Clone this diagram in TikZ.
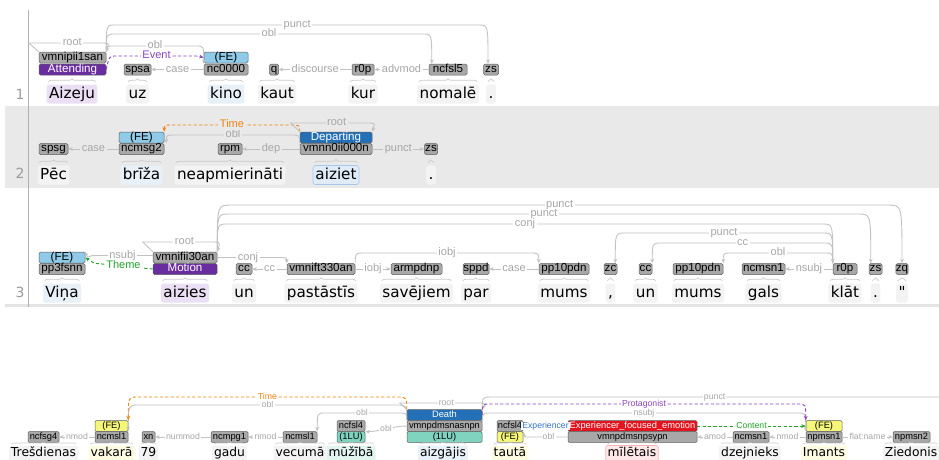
\documentclass[tikz,border=0pt]{standalone}
\usepackage{fontspec}
\usetikzlibrary{arrows.meta,decorations.pathreplacing}
\newfontfamily\wfont{DejaVu Sans}
\newfontfamily\tfont{Liberation Sans}
\definecolor{taggray}{HTML}{A8A8A8}
\definecolor{tagborder}{HTML}{5E5E5E}
\definecolor{arcgray}{HTML}{C2C2C2}
\definecolor{labgray}{HTML}{A6A6A6}
\definecolor{rowgray}{HTML}{E9E9E9}
\definecolor{sepgray}{HTML}{E4E4E4}
\definecolor{guttergray}{HTML}{B0B0B0}
\definecolor{lngray}{HTML}{9A9A9A}
\definecolor{bracegray}{HTML}{CACACA}
\definecolor{attpurple}{HTML}{6A2D9F}
\definecolor{depblue}{HTML}{2370B6}
\definecolor{feblue}{HTML}{8FCBE8}
\definecolor{feyellow}{HTML}{F6F67A}
\definecolor{luteal}{HTML}{7FD3BF}
\definecolor{emored}{HTML}{E2141F}
\definecolor{timeor}{HTML}{F0820F}
\definecolor{evpurple}{HTML}{8A45C0}
\definecolor{thgreen}{HTML}{22A52A}
\definecolor{expblue}{HTML}{3773C4}
\definecolor{hlgray}{HTML}{F3F3F3}
\definecolor{hlpurple}{HTML}{EADFF5}
\definecolor{hlblue}{HTML}{E8F0F8}
\definecolor{hlblueB}{HTML}{E0EBF8}
\definecolor{hlblueline}{HTML}{A9C7EA}
\definecolor{hlyellow}{HTML}{FCFBE2}
\definecolor{hlteal}{HTML}{E2F4EF}
\definecolor{hlpink}{HTML}{FDE7E7}
\definecolor{pinkline}{HTML}{F2B4B4}

\tikzset{
  >={Stealth[length=4.5pt,width=3.8pt]},
  tagA/.style={draw=tagborder, line width=0.5pt, rounded corners=1.5pt, inner sep=0pt,
    minimum height=11pt, minimum width=#1, text height=8pt, text depth=2.3pt,
    font=\tfont\fontsize{11.6}{12}\selectfont},
  tagB/.style={draw=tagborder, line width=0.5pt, rounded corners=1.2pt, inner sep=0pt,
    minimum height=10.8pt, minimum width=#1, text height=6.8pt, text depth=2pt,
    font=\tfont\fontsize{9.3}{10}\selectfont},
  tg/.style={tagA=#1, fill=taggray},
  tgB/.style={tagB=#1, fill=taggray},
  cbox/.style n args={3}{tagA=#3, fill=#1, text=#2},
  cboxB/.style n args={3}{tagB=#3, fill=#1, text=#2},
  wdA/.style={font=\wfont\fontsize{15.2}{17}\selectfont, anchor=base, inner xsep=2.5pt,
    inner ysep=2pt, text height=11.5pt, text depth=3.5pt, rounded corners=2.5pt, fill=#1},
  wdA/.default=hlgray,
  wdB/.style={font=\wfont\fontsize{12.3}{14}\selectfont, anchor=base, inner xsep=2pt,
    inner ysep=1.5pt, text height=9.5pt, text depth=3pt, rounded corners=2pt, fill=#1},
  wdB/.default=hlgray,
  lnum/.style={font=\wfont\fontsize{14}{16}\selectfont, text=lngray, anchor=base, inner sep=0pt},
  darc/.style={draw=arcgray, line width=0.9pt, ->},
  farc/.style={draw=#1, line width=0.9pt, dash pattern=on 3.2pt off 2.2pt, ->},
  lab/.style={fill=white, text=labgray, font=\tfont\fontsize{11}{12}\selectfont,
    inner xsep=1.5pt, inner ysep=0.2pt, text height=7.2pt, text depth=1.8pt},
  labg/.style={lab, fill=rowgray},
  labc/.style={lab, text=#1},
  labcg/.style={labg, text=#1},
  labB/.style={fill=white, text=labgray, font=\tfont\fontsize{8.7}{10}\selectfont,
    inner xsep=1.2pt, inner ysep=0.3pt, text height=6pt, text depth=1.5pt},
  labBc/.style={labB, text=#1},
  brcA/.style={decorate, decoration={brace, amplitude=3pt}, draw=bracegray, line width=0.7pt},
  brcB/.style={decorate, decoration={brace, amplitude=2.2pt}, draw=bracegray, line width=0.6pt},
}

% arc going right: opts, start, end, level, label style, label, d
\newcommand\arcR[7][]{%
  \path (0,#4) coordinate (lv);
  \draw[#1] (#2) .. controls (#2 |- lv) .. ([xshift=#7pt]#2 |- lv)
    -- node[#5]{#6} ([xshift=-#7pt]#3 |- lv) .. controls (#3 |- lv) .. (#3);}
% arc going left
\newcommand\arcL[7][]{%
  \path (0,#4) coordinate (lv);
  \draw[#1] (#2) .. controls (#2 |- lv) .. ([xshift=-#7pt]#2 |- lv)
    -- node[#5]{#6} ([xshift=#7pt]#3 |- lv) .. controls (#3 |- lv) .. (#3);}
% root arc over a box: node, level, label style, left offset
\newcommand\rootarc[4]{%
  \path (0,#2) coordinate (lv);
  \draw[darc] (#1.north west) -- ([xshift=-#4pt]#1.north west |- lv)
    -- node[#3, pos=0.6]{root} ([xshift=-5pt]#1.north east |- lv)
    .. controls ([xshift=3pt]#1.north east |- lv) .. (#1.north east);}

\begin{document}
\begin{tikzpicture}[x=1pt,y=-1pt]
\useasboundingbox (0,0) rectangle (939,459);
\clip (0,0) rectangle (939,459);

% backgrounds
\fill[rowgray] (5,106) rectangle (939,188);
\fill[sepgray] (5,304) rectangle (939,306.5);
\draw[guttergray, line width=0.8pt] (28,10) -- (28,307);
\node[lnum] (ln1) at (20,99) {1};
\node[lnum] (ln2) at (20,178.5) {2};
\node[lnum] (ln3) at (20,297) {3};

% ---------------- sentence 1
\node[tg=67pt] (v1) at (72.5,57.5) {vmnipii1san};
\node[cbox={attpurple}{white}{67pt}] (att) at (72.5,69.5) {Attending};
\node[tg=27pt] (spsa) at (137.5,69.5) {spsa};
\node[cbox={feblue}{black}{44pt}] (fe1) at (226,57.5) {(FE)};
\node[tg=44pt] (nc1) at (226,69.5) {nc0000};
\node[tg=9pt] (q1) at (274,69.5) {q};
\node[tg=22pt] (r1) at (363,69.5) {r0p};
\node[tg=38pt] (n5) at (448,69.5) {ncfsl5};
\node[tg=15pt] (zs1) at (491,69.5) {zs};

\node[wdA=hlpurple] (w1a) at (72,98) {Aizeju};
\node[wdA] (w1b) at (137.5,98) {uz};
\node[wdA=hlblue] (w1c) at (226,98) {kino};
\node[wdA] (w1d) at (277,98) {kaut};
\node[wdA] (w1e) at (363,98) {kur};
\node[wdA] (w1f) at (448,98) {nomalē};
\node[wdA] (w1g) at (491,98) {.};

\coordinate (zs1e) at ([xshift=-3pt]zs1.north);
\coordinate (n5e) at ([xshift=3pt]n5.north west);
\rootarc{v1}{43}{lab}{10}
\arcR[darc]{v1.north east}{zs1e}{25}{lab}{punct}{9}
\arcR[darc]{v1.north east}{n5e}{34}{lab}{obl}{9}
\arcR[darc]{v1.north east}{nc1.north west}{46}{lab}{obl}{7}
\path (0,56) coordinate (lvE);
\draw[farc=evpurple] (att.east) .. controls ([xshift=3pt]att.east |- lvE) .. ([xshift=10pt]att.east |- lvE)
  -- node[labc=evpurple]{Event} ([xshift=-7pt]fe1.west |- lvE) -- (fe1.west);
\draw[darc] (nc1.west) -- node[lab]{case} (spsa.east);
\draw[darc] (r1.west) -- node[lab]{discourse} (q1.east);
\draw[darc] (n5.west) -- node[lab]{advmod} (r1.east);

% ---------------- sentence 2
\node[tg=29pt] (spsg) at (53.5,149) {spsg};
\node[cbox={feblue}{black}{45pt}] (fe2) at (141.5,137.5) {(FE)};
\node[tg=45pt] (nc2) at (141.5,149) {ncmsg2};
\node[tg=24pt] (rpm) at (230,149) {rpm};
\node[cbox={depblue}{white}{72pt}] (dep) at (336,137.5) {Departing};
\node[tg=72pt] (vm2) at (336,149) {vmnn0ii000n};
\node[tg=13pt] (zs2) at (431,149) {zs};

\node[wdA] (w2a) at (53.5,179) {Pēc};
\node[wdA=hlblue] (w2b) at (141.5,179) {brīža};
\node[wdA] (w2c) at (230,179) {neapmierināti};
\node[wdA=hlblueB, draw=hlblueline, line width=0.6pt] (w2d) at (336,179) {aiziet};
\node[wdA] (w2e) at (431,179) {.};

\coordinate (nc2e) at ([xshift=2pt]nc2.north east);
\draw[darc] (nc2.west) -- node[labg]{case} (spsg.east);
\draw[darc] (vm2.west) -- node[labg]{dep} (rpm.east);
\draw[darc] (vm2.east) -- node[labg]{punct} (zs2.west);
\arcL[darc]{vm2.north west}{nc2e}{135}{labg}{obl}{9}
\arcL[farc=timeor]{dep.north west}{fe2.north east}{125}{labcg=timeor}{Time}{9}
\rootarc{dep}{123}{labg}{9}

% ---------------- sentence 3
\node[cbox={feblue}{black}{46pt}] (fe3) at (62,257.5) {(FE)};
\node[tg=46pt] (pp3) at (62,269) {pp3fsnn};
\node[tg=64pt] (vm3) at (185,257.5) {vmnifii30an};
\node[cbox={attpurple}{white}{64pt}] (mot) at (185,269) {Motion};
\node[tg=16pt] (cca) at (244,269) {cc};
\node[tg=68pt] (vt3) at (321,269) {vmnift330an};
\node[tg=51pt] (arm) at (416.5,269) {armpdnp};
\node[tg=26pt] (sppd) at (476,269) {sppd};
\node[tg=50pt] (ppa) at (564,269) {pp10pdn};
\node[tg=13pt] (zc) at (610.5,269) {zc};
\node[tg=13pt] (ccb) at (645.5,269) {cc};
\node[tg=50pt] (ppb) at (698,269) {pp10pdn};
\node[tg=43pt] (nm) at (763.5,269) {ncmsn1};
\node[tg=24pt] (r3) at (845,269) {r0p};
\node[tg=13pt] (zs3) at (875.5,269) {zs};
\node[tg=11pt] (zq) at (902,269) {zq};

\node[wdA=hlblue] (w3a) at (62,297) {Viņa};
\node[wdA=hlpurple] (w3b) at (185,297) {aizies};
\node[wdA] (w3c) at (244,297) {un};
\node[wdA] (w3d) at (321,297) {pastāstīs};
\node[wdA] (w3e) at (416.5,297) {savējiem};
\node[wdA] (w3f) at (476,297) {par};
\node[wdA] (w3g) at (564,297) {mums};
\node[wdA] (w3h) at (610.5,297) {,};
\node[wdA] (w3i) at (645.5,297) {un};
\node[wdA] (w3j) at (698,297) {mums};
\node[wdA] (w3k) at (763.5,297) {gals};
\node[wdA] (w3l) at (845,297) {klāt};
\node[wdA] (w3m) at (875.5,297) {.};
\node[wdA] (w3n) at (902,297) {\symbol{34}};

\coordinate (zs3e) at ([xshift=2pt]zs3.north west);
\coordinate (zce) at ([xshift=-2pt]zc.north east);
\rootarc{vm3}{242}{lab}{10}
\draw[darc] ([yshift=2pt]vm3.west) -- node[lab]{nsubj} ([xshift=7pt,yshift=2pt]fe3.east)
  .. controls ([xshift=2pt]fe3.east) .. (fe3.north east);
\draw[farc=thgreen] (mot.west) -- node[labc=thgreen]{Theme} ([xshift=9pt]fe3.south east) -- (fe3.east);
\draw[darc] (vm3.east) -- node[lab]{conj} ([xshift=-8pt]vt3.north west |- vm3.east)
  .. controls (vt3.north west |- vm3.east) .. (vt3.north west);
\draw[darc] (vt3.west) -- node[lab]{cc} (cca.east);
\draw[darc] (vt3.east) -- node[lab]{iobj} (arm.west);
\arcR[darc]{vt3.north east}{ppa.north west}{253}{lab}{iobj}{9}
\draw[darc] (ppa.west) -- node[lab]{case} (sppd.east);
\arcR[darc]{vm3.north east}{zq.north}{205}{lab}{punct}{14}
\arcR[darc]{vm3.north east}{zs3e}{214}{lab}{punct}{12}
\arcR[darc]{vm3.north east}{r3.north west}{224}{lab}{conj}{10}
\arcL[darc]{r3.north west}{zce}{233}{lab}{punct}{10}
\arcL[darc]{r3.north west}{ccb.north east}{243}{lab}{cc}{9}
\arcL[darc]{r3.north west}{ppb.north east}{253}{lab}{obl}{8}
\draw[darc] (r3.west) -- node[lab]{nsubj} (nm.east);

% ---------------- sentence 4
\node[tgB=31pt] (fg4) at (43.5,437) {ncfsg4};
\node[cboxB={feyellow}{black}{33pt}] (fea) at (111.5,426) {(FE)};
\node[tgB=33pt] (nla) at (111.5,437) {ncmsl1};
\node[tgB=13pt] (xn) at (148.5,437) {xn};
\node[tgB=37pt] (npg) at (229.5,437) {ncmpg1};
\node[tgB=34pt] (nlb) at (300,437) {ncmsl1};
\node[tgB=28pt] (n4a) at (351,426) {ncfsl4};
\node[cboxB={luteal}{black}{28pt}] (lua) at (351,437) {(1LU)};
\node[cboxB={depblue}{white}{75pt}] (death) at (444.5,415) {Death};
\node[tgB=75pt] (vp) at (444.5,426) {vmnpdmsnasnpn};
\node[cboxB={luteal}{black}{75pt}] (lub) at (444.5,437) {(1LU)};
\node[tgB=26pt] (n4b) at (510,426) {ncfsl4};
\node[cboxB={feyellow}{black}{26pt}] (feb) at (510,437) {(FE)};
\node[cboxB={emored}{white}{129pt}] (emo) at (632.5,426) {Experiencer\_focused\_emotion};
\node[tgB=129pt] (vps) at (632.5,437) {vmnpdmsnpsypn};
\node[tgB=36pt] (nc1c) at (751,437) {ncmsn1};
\node[cboxB={feyellow}{black}{36pt}] (fei) at (824,426) {(FE)};
\node[tgB=36pt] (npm1) at (824,437) {npmsn1};
\node[tgB=37pt] (npm2) at (911.5,437) {npmsn2};

\node[wdB] (w4a) at (43.5,456.5) {Trešdienas};
\node[wdB=hlyellow] (w4b) at (111.5,456.5) {vakarā};
\node[wdB] (w4c) at (148.5,456.5) {79};
\node[wdB] (w4d) at (229.5,456.5) {gadu};
\node[wdB] (w4e) at (300,456.5) {vecumā};
\node[wdB=hlteal] (w4f) at (351,456.5) {mūžībā};
\node[wdB=hlblue] (w4g) at (443,456.5) {aizgājis};
\node[wdB=hlyellow] (w4h) at (510,456.5) {tautā};
\node[wdB=hlpink, draw=pinkline, line width=0.6pt] (w4i) at (632,456.5) {mīlētais};
\node[wdB] (w4j) at (750,456.5) {dzejnieks};
\node[wdB=hlyellow] (w4k) at (824,456.5) {Imants};
\node[wdB] (w4l) at (911,456.5) {Ziedonis};

\coordinate (pend) at (947,432);
\draw[darc] (nla.west) -- node[labB]{nmod} (fg4.east);
\draw[darc] (npg.west) -- node[labB]{nummod} (xn.east);
\draw[darc] (nlb.west) -- node[labB]{nmod} (npg.east);
\draw[darc] (vp.west) .. controls ([xshift=-14pt]vp.west) and ([xshift=14pt]n4a.south east)
  .. node[labB]{obl} (n4a.south east);
\arcL[darc]{vp.north west}{nlb.north east}{413}{labB}{obl}{8}
\arcL[darc]{vp.north west}{nla.north east}{405}{labB}{obl}{10}
\arcL[farc=timeor]{death.north west}{fea.north east}{397}{labBc=timeor}{Time}{10}
\rootarc{death}{403}{labB}{7}
\arcR[darc]{death.north east}{pend}{397}{labB}{punct}{10}
\arcR[darc]{vp.east}{npm1.north west}{413}{labB}{nsubj}{8}
\arcR[farc=evpurple]{death.east}{fei.north west}{404}{labBc=evpurple}{Protagonist}{8}
\draw[farc=expblue] (emo.west) -- node[labBc=expblue]{Experiencer} (n4b.east);
\draw[darc] (vps.west) -- node[labB]{obl} ([xshift=6pt]feb.east)
  .. controls ([xshift=1pt]feb.east) .. (n4b.south east);
\draw[farc=thgreen] (emo.east) -- node[labBc=thgreen]{Content} (fei.west);
\draw[darc] (nc1c.west) -- node[labB]{amod} (vps.east);
\draw[darc] (npm1.west) -- node[labB]{nmod} (nc1c.east);
\draw[darc] (npm1.east) -- node[labB]{flat:name} (npm2.west);

% braces
\foreach \w in {w1a,w1b,w1c,w1d,w1e,w1f,w1g,w2a,w2b,w2c,w2d,w2e,
  w3a,w3b,w3c,w3d,w3e,w3f,w3g,w3h,w3i,w3j,w3k,w3l,w3m,w3n}
  \draw[brcA] ([xshift=2pt,yshift=2.5pt]\w.north west) -- ([xshift=-2pt,yshift=2.5pt]\w.north east);
\foreach \w in {w4a,w4b,w4c,w4d,w4e,w4f,w4g,w4h,w4i,w4j,w4k,w4l}
  \draw[brcB] ([xshift=2pt,yshift=1.2pt]\w.north west) -- ([xshift=-2pt,yshift=1.2pt]\w.north east);
\end{tikzpicture}
\end{document}
